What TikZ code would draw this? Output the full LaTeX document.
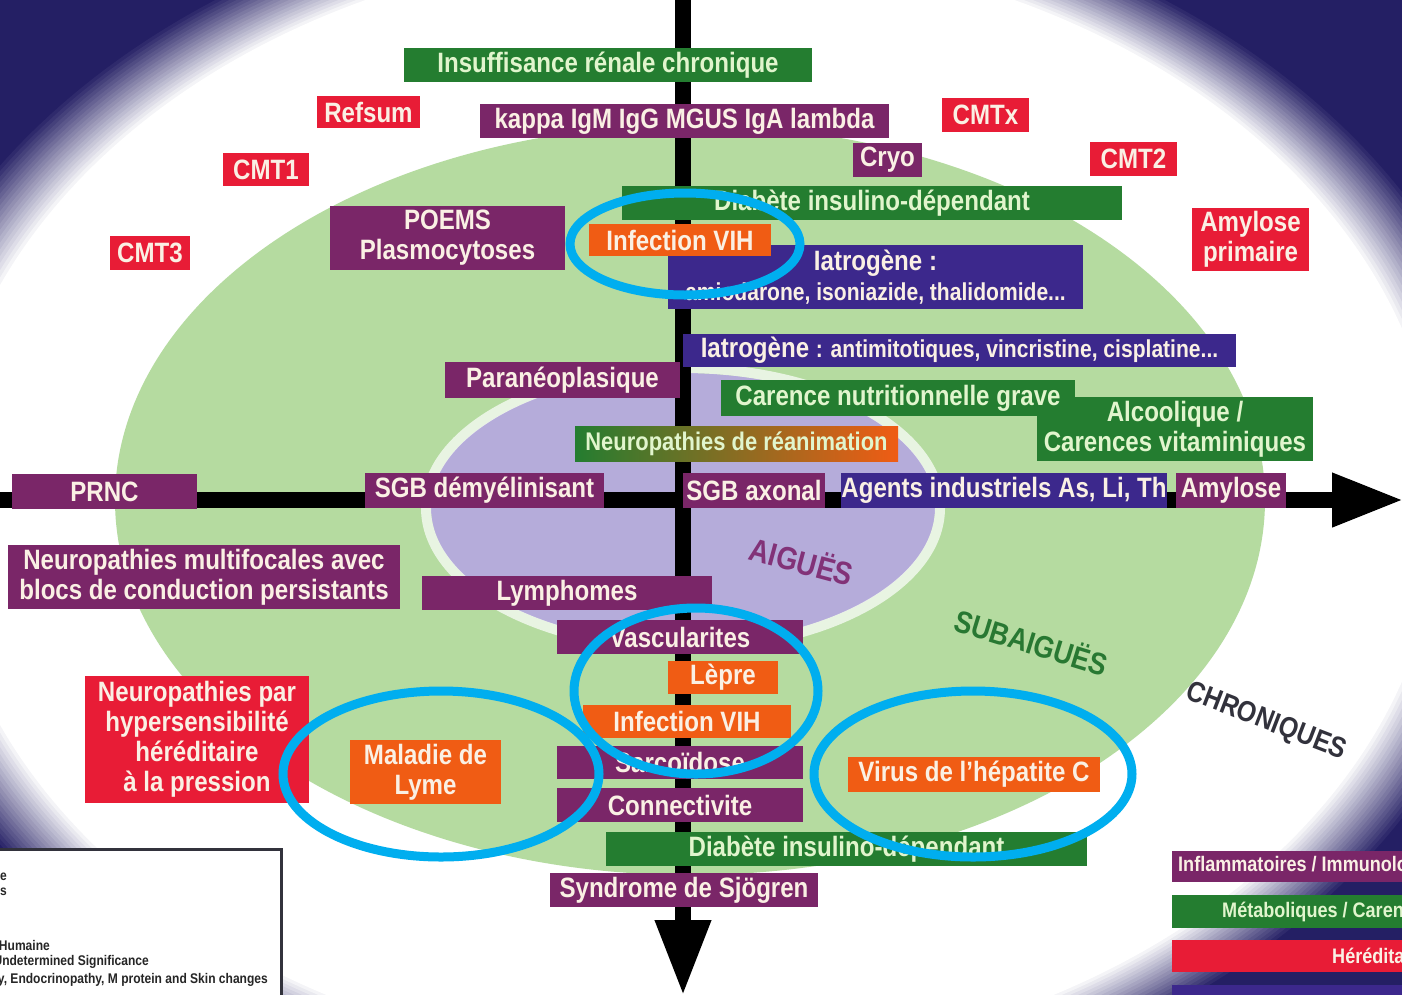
\documentclass[tikz,border=0pt]{standalone}
\usepackage{fontspec}
\newfontfamily\cf{Liberation Sans}[FakeStretch=0.86]
\usetikzlibrary{arrows.meta}
\definecolor{navyc}{RGB}{36,31,100}
\definecolor{greenbg}{RGB}{181,219,160}
\definecolor{lavbg}{RGB}{181,172,218}
\definecolor{boxgreen}{RGB}{36,125,48}
\definecolor{boxpurple}{RGB}{122,38,104}
\definecolor{boxred}{RGB}{232,28,54}
\definecolor{boxorange}{RGB}{240,92,20}
\definecolor{boxindigo}{RGB}{60,40,140}
\definecolor{cyanc}{RGB}{0,174,239}
\definecolor{cream}{RGB}{250,240,228}
\definecolor{paleg}{RGB}{225,245,205}
\definecolor{aigc}{RGB}{130,50,120}
\definecolor{subc}{RGB}{40,120,50}
\definecolor{chrc}{RGB}{50,50,60}
\tikzset{
  box/.style={rectangle, inner sep=0pt, align=center, text=cream,
    font=\cf\bfseries\fontsize{28}{30}\selectfont},
  gbox/.style={fill=boxgreen, text=paleg},
  pbox/.style={fill=boxpurple},
  rbox/.style={fill=boxred},
  obox/.style={fill=boxorange},
  ibox/.style={fill=boxindigo},
  nrbox/.style={left color=boxgreen, right color=boxorange, text=paleg,
    font=\cf\bfseries\fontsize{25.5}{28}\selectfont},
  ringc/.style={draw=cyanc, line width=9pt},
  axisline/.style={line width=16pt, draw=black},
  lgtext/.style={inner sep=0pt, font=\cf\bfseries\fontsize{21}{23}\selectfont},
  smalltext/.style={inner sep=0pt, text=black!85, font=\cf\bfseries\fontsize{14}{16}\selectfont},
  phase/.style={inner sep=0pt, font=\cf\bfseries\fontsize{32}{34}\selectfont},
}
\newcommand\bx[7]{\node[box,#6,minimum width={#4-#2},minimum height={#5-#3}] (#1) at ({(#2+#4)/2},{(#3+#5)/2}) {#7};}
\begin{document}
\begin{tikzpicture}[x=1pt,y=-1pt]
\useasboundingbox (0,0) rectangle (1402,994);
\clip (0,0) rectangle (1402,994);
% background
\fill[navyc] (0,0) rectangle (1402,994);
\foreach \i in {0,...,20}{
  \pgfmathtruncatemacro\p{100-5*\i}
  \pgfmathsetmacro\rx{830-4*\i}
  \pgfmathsetmacro\ry{620-3*\i}
  \fill[navyc!\p!white] (690,505) ellipse [x radius=\rx pt, y radius=\ry pt];
}
\fill[greenbg] (690,500) ellipse [x radius=575pt, y radius=375pt];
\fill[lavbg] (683,508) ellipse [x radius=252pt, y radius=135pt];
\draw[white, line width=10pt, opacity=0.7] (683,508) ellipse [x radius=257pt, y radius=140pt];
% axes
\coordinate (vtop) at (683,-10);
\coordinate (vend) at (683,996);
\coordinate (hleft) at (-10,500);
\coordinate (hend) at (1404,500);
\draw[axisline, -{Triangle[length=76pt,width=52pt]}] (vtop) -- (vend);
\draw[axisline, -{Triangle[length=72pt,width=50pt]}] (hleft) -- (hend);
% boxes
\bx{irc}{404}{48}{812}{82}{gbox}{Insuffisance rénale chronique}
\bx{refsum}{317}{96}{420}{128}{rbox}{Refsum}
\bx{kappa}{480}{104}{889}{138}{pbox}{kappa IgM IgG MGUS IgA lambda}
\bx{cmtx}{942}{98}{1029}{132}{rbox}{CMTx}
\bx{cmt1}{223}{153}{309}{186}{rbox}{CMT1}
\bx{cryo}{853}{143}{922}{177}{pbox}{Cryo}
\bx{cmt2}{1090}{142}{1177}{176}{rbox}{CMT2}
\bx{did1}{622}{186}{1122}{220}{gbox}{Diabète insulino-dépendant}
\bx{poems}{330}{206}{565}{270}{pbox}{POEMS\\Plasmocytoses}
\bx{cmt3}{110}{236}{190}{270}{rbox}{CMT3}
\bx{amyp}{1192}{208}{1309}{271}{rbox}{Amylose\\primaire}
\bx{iat1}{668}{245}{1083}{309}{ibox}{Iatrogène :\\{\fontsize{24.5}{26}\selectfont amiodarone, isoniazide, thalidomide...}}
\bx{vih1}{589}{224}{771}{256}{obox}{Infection VIH}
\bx{iat2}{683}{334}{1236}{367}{ibox}{Iatrogène {\fontsize{24.5}{26}\selectfont : antimitotiques, vincristine, cisplatine...}}
\bx{para}{445}{362}{680}{398}{pbox}{Paranéoplasique}
\bx{alc}{1037}{397}{1313}{461}{gbox}{Alcoolique /\\Carences vitaminiques}
\bx{carn}{721}{380}{1075}{416}{gbox}{Carence nutritionnelle grave}
\bx{nrea}{575}{426}{898}{461}{nrbox}{Neuropathies de réanimation}
\bx{prnc}{12}{474}{197}{509}{pbox}{PRNC}
\bx{sgbd}{365}{473}{604}{508}{pbox}{SGB démyélinisant}
\bx{sgba}{683}{473}{825}{508}{pbox}{SGB axonal}
\bx{agents}{842}{473}{1166}{508}{ibox}{Agents industriels As, Li, Th}
\bx{amy}{1176}{473}{1286}{508}{pbox}{Amylose}
\bx{nmbc}{8}{545}{400}{609}{pbox}{Neuropathies multifocales avec\\blocs de conduction persistants}
\bx{lymph}{422}{576}{712}{610}{pbox}{Lymphomes}
\bx{vasc}{557}{620}{803}{654}{pbox}{Vascularites}
\bx{lepre}{668}{661}{778}{694}{obox}{Lèpre}
\bx{vih2}{583}{705}{791}{738}{obox}{Infection VIH}
\bx{sarc}{557}{746}{803}{779}{pbox}{Sarcoïdose}
\bx{conn}{557}{788}{803}{822}{pbox}{Connectivite}
\bx{did2}{606}{832}{1087}{866}{gbox}{Diabète insulino-dépendant}
\bx{sjog}{550}{873}{818}{907}{pbox}{Syndrome de Sjögren}
\bx{nhpp}{85}{676}{309}{803}{rbox}{Neuropathies par\\hypersensibilité\\héréditaire\\à la pression}
\bx{lyme}{350}{740}{501}{804}{obox}{Maladie de\\Lyme}
\bx{vhc}{848}{757}{1100}{792}{obox}{Virus de l’hépatite C}
% phase labels
\node[phase, text=aigc, rotate=-15] (aig) at (802,560) {AIGUËS};
\node[phase, text=subc, rotate=-17, font=\cf\bfseries\fontsize{31}{33}\selectfont] (sub) at (1032,641) {SUBAIGUËS};
\node[phase, text=chrc, rotate=-21, font=\cf\bfseries\fontsize{29}{31}\selectfont] (chr) at (1266,722) {CHRONIQUES};
% highlight rings
\draw[ringc] (685,244) ellipse [x radius=115pt, y radius=51pt];
\draw[ringc] (696,691) ellipse [x radius=122pt, y radius=83pt];
\draw[ringc] (441,774) ellipse [x radius=158pt, y radius=83pt];
\draw[ringc] (973,774) ellipse [x radius=159pt, y radius=83pt];
% right legend
\node[box, pbox, minimum width=280, minimum height=31, anchor=north west] (lg1) at (1172,851) {};
\node[lgtext, text=cream, anchor=west] (lg1t) at (1178,866.5) {Inflammatoires / Immunologiques};
\node[box, gbox, minimum width=280, minimum height=33, anchor=north west] (lg2) at (1172,895) {};
\node[lgtext, text=paleg, anchor=west] (lg2t) at (1222,911.5) {Métaboliques / Carentielles};
\node[box, rbox, minimum width=280, minimum height=32, anchor=north west] (lg3) at (1172,940) {};
\node[lgtext, text=cream, anchor=west] (lg3t) at (1332,956) {Héréditaires};
\node[box, ibox, minimum width=280, minimum height=32, anchor=north west] (lg4) at (1172,985) {};
% left legend
\draw[fill=white, draw=chrc, line width=3pt] (-10,849) rectangle (281,1010);
\node[smalltext, anchor=east] (lt1) at (7,877) {e};
\node[smalltext, anchor=east] (lt2) at (7,892) {s};
\node[smalltext, anchor=east] (lt3) at (50,945) {VIH : Virus de l’Immunodéficience Humaine};
\node[smalltext, anchor=east] (lt4) at (149,962) {MGUS : Monoclonal Gammopathy of Undetermined Significance};
\node[smalltext, anchor=east] (lt5) at (268,980) {POEMS : Polyneuropathy, Organomegaly, Endocrinopathy, M protein and Skin changes};
\end{tikzpicture}
\end{document}
